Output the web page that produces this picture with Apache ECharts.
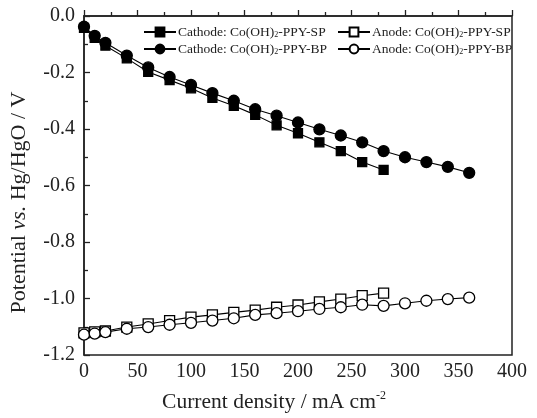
<!DOCTYPE html>
<html><head><meta charset="utf-8">
<script src="https://cdn.jsdelivr.net/npm/echarts@6/dist/echarts.min.js"></script>
<style>html,body{margin:0;padding:0;background:#fff}#c{width:537px;height:418px}</style>
</head><body><div id="c"></div>
<script>
const xCathodeSP = [0,10,20,40,60,80,100,120,140,160,180,200,220,240,260,280];
const yCathodeSP = [-0.042,-0.077,-0.105,-0.150,-0.198,-0.227,-0.256,-0.290,-0.318,-0.350,-0.387,-0.415,-0.447,-0.478,-0.517,-0.545];
const xCathodeBP = [0,10,20,40,60,80,100,120,140,160,180,200,220,240,260,280,300,320,340,360];
const yCathodeBP = [-0.038,-0.070,-0.095,-0.140,-0.182,-0.216,-0.244,-0.273,-0.300,-0.330,-0.353,-0.377,-0.401,-0.423,-0.447,-0.478,-0.500,-0.517,-0.534,-0.555];
const xAnodeSP = [0,10,20,40,60,80,100,120,140,160,180,200,220,240,260,280];
const yAnodeSP = [-1.122,-1.118,-1.115,-1.101,-1.090,-1.078,-1.066,-1.058,-1.049,-1.041,-1.031,-1.023,-1.012,-1.002,-0.990,-0.981];
const xAnodeBP = [0,10,20,40,60,80,100,120,140,160,180,200,220,240,260,280,300,320,340,360];
const yAnodeBP = [-1.128,-1.124,-1.119,-1.107,-1.101,-1.093,-1.086,-1.078,-1.070,-1.058,-1.052,-1.045,-1.037,-1.031,-1.022,-1.026,-1.017,-1.008,-1.002,-0.997];
const xTicks = [0,50,100,150,200,250,300,350,400];
const yTicks = [-1.2,-1.0,-0.8,-0.6,-0.4,-0.2,0.0];
const names = ['Cathode: Co(OH){sub|2}-PPY-SP','Cathode: Co(OH){sub|2}-PPY-BP','Anode: Co(OH){sub|2}-PPY-SP','Anode: Co(OH){sub|2}-PPY-BP'];

const FONT = '"Liberation Serif","Times New Roman",serif';
const zip = (a,b)=>a.map((v,i)=>[v,b[i]]);
const chart = echarts.init(document.getElementById('c'), null, {renderer:'canvas'});
function ser(name, xs, ys, symbol, size, fill){
  return {name, type:'line', data: zip(xs,ys), symbol, symbolSize:size, showAllSymbol:true,
    lineStyle:{color:'#000',width:1.1}, itemStyle:{color:fill,borderColor:'#000',borderWidth:1.3},
    emphasis:{disabled:true}, z: fill==='#000'?3:2};
}
const legendCommon = {orient:'vertical', itemWidth:32, itemHeight:11, itemGap:3,
  textStyle:{fontFamily:FONT,fontSize:13.5,color:'#222',padding:[0,0,0,-3],
    rich:{sub:{fontFamily:FONT,fontSize:8,verticalAlign:'bottom',padding:[5,0,0,0],color:'#222'}}}};
chart.setOption({
  animation:false,
  grid:{left:84,right:25,top:16,bottom:58,show:true,borderColor:'#222',borderWidth:1.5,backgroundColor:'transparent'},
  legend:[
    Object.assign({left:138,top:20,data:[names[0],names[1]]}, legendCommon),
    Object.assign({left:332,top:20,data:[names[2],names[3]]}, legendCommon)
  ],
  xAxis:{type:'value',min:0,max:400,interval:50,
    name:'Current density / mA cm{sup|-2}',nameLocation:'middle',nameGap:35,
    nameTextStyle:{fontFamily:FONT,fontSize:21.5,color:'#222',padding:[0,48,0,0],
      rich:{sup:{fontFamily:FONT,fontSize:12,verticalAlign:'top',padding:[0,0,12,0],color:'#222'}}},
    axisLine:{lineStyle:{color:'#222',width:1.5}},
    axisTick:{inside:true,length:6,lineStyle:{color:'#222',width:1.3}},
    minorTick:{show:true,splitNumber:2,length:4,lineStyle:{color:'#222',width:1.3}},
    splitLine:{show:false},
    axisLabel:{fontFamily:FONT,fontSize:20,color:'#222',margin:7,
      formatter:v=>xTicks.includes(v)?String(v):''}
  },
  yAxis:{type:'value',min:-1.2,max:0,interval:0.2,
    name:'Potential {i|vs.} Hg/HgO / V',nameLocation:'middle',nameGap:54,nameRotate:90,
    nameTextStyle:{fontFamily:FONT,fontSize:22,color:'#222',padding:[0,34,0,0],
      rich:{i:{fontFamily:FONT,fontSize:22,fontStyle:'italic',color:'#222'}}},
    axisLine:{lineStyle:{color:'#222',width:1.5}},
    axisTick:{inside:true,length:6,lineStyle:{color:'#222',width:1.3}},
    minorTick:{show:true,splitNumber:2,length:4,lineStyle:{color:'#222',width:1.3}},
    splitLine:{show:false},
    axisLabel:{fontFamily:FONT,fontSize:20,color:'#222',margin:9,
      formatter:v=>{const t=yTicks.find(k=>Math.abs(k-v)<1e-6);return t===undefined?'':(Math.abs(t)<1e-9?'0.0':t.toFixed(1));}}
  },
  series:[
    ser(names[0], xCathodeSP, yCathodeSP, 'rect', 9, '#000'),
    ser(names[1], xCathodeBP, yCathodeBP, 'circle', 11, '#000'),
    ser(names[2], xAnodeSP, yAnodeSP, 'rect', 10, '#fff'),
    ser(names[3], xAnodeBP, yAnodeBP, 'circle', 11, '#fff')
  ]
});
</script></body></html>
